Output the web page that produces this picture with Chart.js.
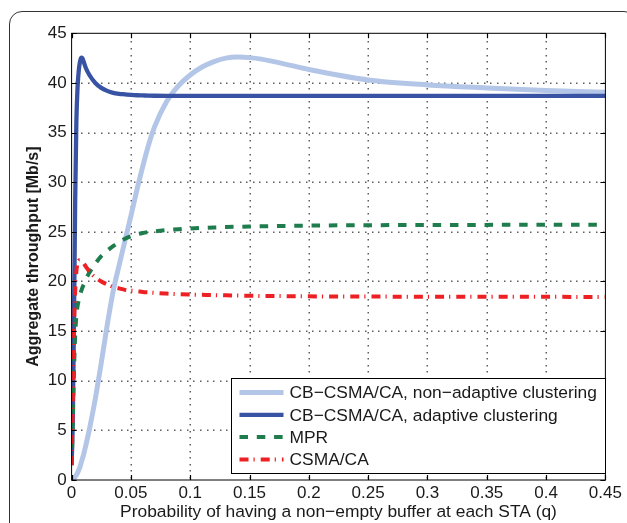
<!DOCTYPE html>
<html>
<head>
<meta charset="utf-8">
<script src="https://cdn.jsdelivr.net/npm/chart.js@4.4.0/dist/chart.umd.min.js"></script>
<style>
  html, body { margin: 0; padding: 0; background: #fff; overflow: hidden; }
  #wrap { position: relative; width: 627px; height: 523px; overflow: hidden; }
  #frame { position: absolute; left: 9px; top: 11px; width: 628px; height: 560px;
           border: 1.5px solid #333; border-radius: 13px; box-sizing: border-box; }
  canvas { position: absolute; left: 0; top: 0; }
</style>
</head>
<body>
<div id="wrap">
  <div id="frame"></div>
  <canvas id="chart" width="627" height="523"></canvas>
</div>
<script>
// q values (probability of a non-empty buffer)
const q = [0, 0.001, 0.002, 0.003, 0.004, 0.005, 0.006, 0.007, 0.008, 0.009,
  0.01, 0.012, 0.015, 0.02, 0.025, 0.03, 0.035, 0.04, 0.045, 0.05,
  0.055, 0.06, 0.065, 0.07, 0.08, 0.09, 0.1, 0.11, 0.12, 0.13,
  0.14, 0.15, 0.16, 0.18, 0.2, 0.25, 0.3, 0.35, 0.4, 0.45];

// Aggregate throughput [Mb/s]
const nonAdaptive = [0, 0.04, 0.15, 0.32, 0.5, 0.72, 1.0, 1.3, 1.7, 2.1,
  2.5, 3.5, 5.1, 8.2, 11.8, 15.6, 19.0, 21.6, 24.1, 26.6,
  29.2, 31.6, 33.8, 35.6, 38.1, 39.7, 40.8, 41.6, 42.15, 42.5,
  42.6, 42.55, 42.4, 41.9, 41.35, 40.3, 39.8, 39.5, 39.25, 39.05];

const adaptive = [1.5, 6, 16, 28, 36, 39.5, 41.2, 42.1, 42.55, 42.5,
  42.2, 41.5, 40.8, 40.0, 39.5, 39.2, 39.0, 38.9, 38.85, 38.8,
  38.76, 38.74, 38.72, 38.71, 38.7, 38.7, 38.7, 38.7, 38.7, 38.7,
  38.7, 38.7, 38.7, 38.7, 38.7, 38.7, 38.7, 38.7, 38.7, 38.7];

const mpr = [1.5, 6, 11, 14.5, 16.5, 17.5, 18.1, 18.6, 19.0, 19.35,
  19.65, 20.2, 20.9, 21.8, 22.55, 23.1, 23.55, 23.95, 24.3, 24.55,
  24.75, 24.88, 24.97, 25.05, 25.17, 25.26, 25.33, 25.39, 25.44, 25.48,
  25.51, 25.54, 25.56, 25.6, 25.63, 25.67, 25.69, 25.7, 25.71, 25.72];

const csma = [1.5, 8, 15, 19, 21, 21.8, 22.1, 22.15, 22.1, 22.0,
  21.85, 21.5, 21.0, 20.4, 20.0, 19.7, 19.45, 19.3, 19.15, 19.08,
  19.02, 18.95, 18.9, 18.85, 18.78, 18.72, 18.68, 18.65, 18.62, 18.6,
  18.58, 18.56, 18.54, 18.52, 18.5, 18.48, 18.46, 18.45, 18.45, 18.44];

const seriesLabels = ['CB\u2212CSMA/CA, non\u2212adaptive clustering',
  'CB\u2212CSMA/CA, adaptive clustering', 'MPR', 'CSMA/CA'];

const xTickValues = [0, 0.05, 0.1, 0.15, 0.2, 0.25, 0.3, 0.35, 0.4, 0.45];
const xTickLabels = ['0', '0.05', '0.1', '0.15', '0.2', '0.25', '0.3', '0.35', '0.4', '0.45'];
const yTickValues = [0, 5, 10, 15, 20, 25, 30, 35, 40, 45];
const yTickLabels = ['0', '5', '10', '15', '20', '25', '30', '35', '40', '45'];

const FONT = '"Liberation Sans", Arial, Helvetica, sans-serif';
const toPoints = arr => arr.map((v, i) => ({ x: q[i], y: v }));

const styles = [
  { color: '#b4c6e7', width: 5, dash: [] },
  { color: '#3953a4', width: 4.3, dash: [] },
  { color: '#1f7c4d', width: 4, dash: [8.5, 8.8] },
  { color: '#ed2024', width: 4, dash: [9, 5, 1.2, 6] }
];

// dotted grid, drawn under the lines
const gridPlugin = {
  id: 'dottedGrid',
  beforeDatasetsDraw(chart) {
    const { ctx, chartArea: a } = chart;
    const xs = chart.scales.x, ys = chart.scales.y;
    const step = 6.6;
    ctx.save();
    ctx.fillStyle = '#5e5e5e';
    xTickValues.forEach(v => {
      const px = Math.round(xs.getPixelForValue(v));
      if (px <= a.left + 1 || px >= a.right - 1) return;
      for (let py = a.bottom - 3; py > a.top + 2; py -= step) ctx.fillRect(px - 0.5, Math.round(py), 1.5, 1.5);
    });
    yTickValues.forEach(v => {
      const py = Math.round(ys.getPixelForValue(v));
      if (py <= a.top + 1 || py >= a.bottom - 1) return;
      for (let px = a.left + 3; px < a.right - 2; px += step) ctx.fillRect(Math.round(px), py - 0.5, 1.5, 1.5);
    });
    ctx.restore();
  }
};

// box around plot with inward tick marks (matlab style)
const boxPlugin = {
  id: 'axesBox',
  afterDatasetsDraw(chart) {
    const { ctx, chartArea: a } = chart;
    const xs = chart.scales.x, ys = chart.scales.y;
    ctx.save();
    ctx.strokeStyle = '#000';
    ctx.lineWidth = 1;
    ctx.strokeRect(a.left, a.top, a.right - a.left, a.bottom - a.top);
    ctx.lineWidth = 1.2;
    ctx.beginPath();
    xTickValues.forEach(v => {
      const px = Math.round(xs.getPixelForValue(v)) + 0.5;
      ctx.moveTo(px, a.bottom); ctx.lineTo(px, a.bottom - 5);
      ctx.moveTo(px, a.top); ctx.lineTo(px, a.top + 5);
    });
    yTickValues.forEach(v => {
      const py = Math.round(ys.getPixelForValue(v)) + 0.5;
      ctx.moveTo(a.left, py); ctx.lineTo(a.left + 5, py);
      ctx.moveTo(a.right, py); ctx.lineTo(a.right - 5, py);
    });
    ctx.stroke();
    ctx.restore();
  }
};

// legend box inside the lower right corner
const legendPlugin = {
  id: 'boxLegend',
  afterDraw(chart) {
    const { ctx, chartArea: a } = chart;
    const w = 374, h = 95;
    const x0 = Math.round(a.right - w) + 0.5, y0 = Math.round(a.bottom - 102) + 0.5;
    ctx.save();
    ctx.fillStyle = '#fff';
    ctx.fillRect(x0, y0, w, h);
    ctx.strokeStyle = '#000';
    ctx.lineWidth = 1;
    ctx.strokeRect(x0, y0, w, h);
    ctx.font = '17.4px ' + FONT;
    ctx.textBaseline = 'middle';
    ctx.textAlign = 'left';
    seriesLabels.forEach((label, i) => {
      const s = styles[i];
      const yy = y0 + 14 + i * 22.3;
      ctx.beginPath();
      ctx.strokeStyle = s.color;
      ctx.lineWidth = s.width;
      ctx.setLineDash(s.dash);
      ctx.moveTo(x0 + 8, yy);
      ctx.lineTo(x0 + 52, yy);
      ctx.stroke();
      ctx.setLineDash([]);
      ctx.fillStyle = '#1a1a1a';
      ctx.fillText(label, x0 + 58, yy + 1);
    });
    ctx.restore();
  }
};

const seriesData = [nonAdaptive, adaptive, mpr, csma];

new Chart(document.getElementById('chart'), {
  type: 'line',
  data: {
    datasets: seriesData.map((arr, i) => ({
      label: seriesLabels[i],
      data: toPoints(arr),
      borderColor: styles[i].color,
      borderWidth: styles[i].width,
      borderDash: styles[i].dash,
      pointRadius: 0,
      fill: false,
      cubicInterpolationMode: 'monotone',
      order: 4 - i
    }))
  },
  options: {
    responsive: false,
    animation: false,
    events: [],
    layout: { padding: { top: 33.3, right: 21.6, left: 0, bottom: 0 } },
    plugins: { legend: { display: false }, tooltip: { enabled: false } },
    scales: {
      x: {
        type: 'linear', min: 0, max: 0.45,
        afterBuildTicks: s => { s.ticks = xTickValues.map(v => ({ value: v })); },
        afterFit: s => { s.height = 43; },
        ticks: { callback: (v, i) => xTickLabels[i], color: '#1a1a1a', padding: 3.5, maxRotation: 0,
                 font: { family: FONT, size: 17 } },
        grid: { display: false, drawTicks: false },
        border: { display: false },
        title: { display: true, text: 'Probability of having a non\u2212empty buffer at each STA (q)',
                 color: '#1a1a1a', font: { family: FONT, size: 17.4 }, padding: 0 }
      },
      y: {
        type: 'linear', min: 0, max: 45,
        afterBuildTicks: s => { s.ticks = yTickValues.map(v => ({ value: v })); },
        afterFit: s => { s.width = 71.6; },
        ticks: { callback: (v, i) => yTickLabels[i], color: '#1a1a1a', padding: 5,
                 font: { family: FONT, size: 17 } },
        grid: { display: false, drawTicks: false },
        border: { display: false },
        title: { display: true, text: 'Aggregate throughput [Mb/s]', color: '#1a1a1a',
                 font: { family: FONT, size: 16, weight: 'bold' }, padding: { top: 24, bottom: 0 } }
      }
    }
  },
  plugins: [gridPlugin, boxPlugin, legendPlugin]
});
</script>
</body>
</html>
